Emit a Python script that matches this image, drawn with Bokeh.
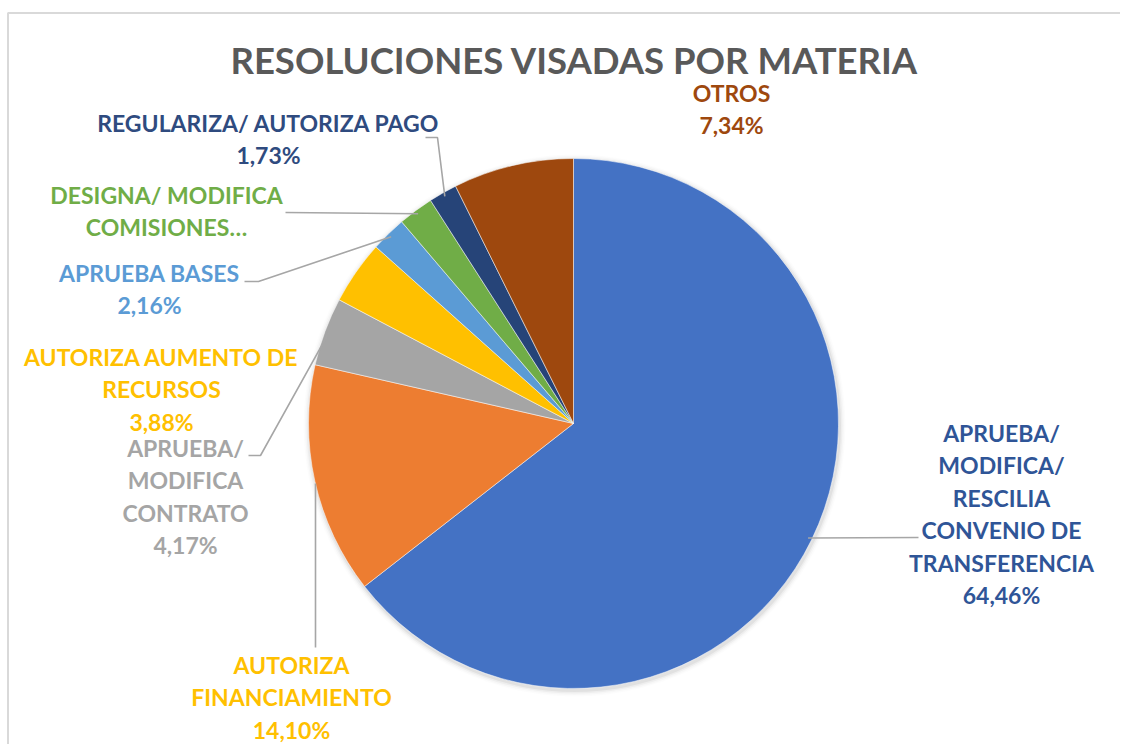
import math
from bokeh.plotting import figure
from bokeh.models import Range1d, ColumnDataSource
from bokeh.core.properties import value
from bokeh.embed import file_html
from bokeh.resources import INLINE

# ---------------- data ----------------
title = "RESOLUCIONES VISADAS POR MATERIA"
categories = [
    "APRUEBA/ MODIFICA/ RESCILIA CONVENIO DE TRANSFERENCIA",
    "AUTORIZA FINANCIAMIENTO",
    "APRUEBA/ MODIFICA CONTRATO",
    "AUTORIZA AUMENTO DE RECURSOS",
    "APRUEBA BASES",
    "DESIGNA/ MODIFICA COMISIONES…",
    "REGULARIZA/ AUTORIZA PAGO",
    "OTROS",
]
values = [64.46, 14.10, 4.17, 3.88, 2.16, 2.16, 1.73, 7.34]
show_pct = [True, True, True, True, True, False, True, True]
slice_colors = ["#4472C4", "#ED7D31", "#A5A5A5", "#FFC000", "#5B9BD5", "#70AD47", "#264478", "#9E480E"]
label_colors = ["#2F5597", "#FFC000", "#A5A5A5", "#FFC000", "#5B9BD5", "#70AD47", "#2F4B7F", "#9E480E"]
# label line breaks (layout)
label_lines = [
    ["APRUEBA/", "MODIFICA/", "RESCILIA", "CONVENIO DE", "TRANSFERENCIA"],
    ["AUTORIZA", "FINANCIAMIENTO"],
    ["APRUEBA/", "MODIFICA", "CONTRATO"],
    ["AUTORIZA AUMENTO DE", "RECURSOS"],
    ["APRUEBA BASES"],
    ["DESIGNA/ MODIFICA", "COMISIONES…"],
    ["REGULARIZA/ AUTORIZA PAGO"],
    ["OTROS"],
]
# label anchor: (center x, first line y) in screen px (layout)
label_pos = [(1001, 432), (291, 664), (185, 447), (161, 356), (149, 272), (166, 194), (268, 122), (731, 92)]
LINE_H = 32.5

# ---------------- layout ----------------
W, H = 1120, 744
CX, CY, R = 573, 423, 265  # screen px

p = figure(width=W, height=H, output_backend="svg", toolbar_location=None,
           x_range=Range1d(0, W), y_range=Range1d(-H, 0),
           min_border=0)
p.axis.visible = False
p.grid.visible = False
p.outline_line_color = None
p.background_fill_color = "white"
p.border_fill_color = "white"

def Y(sy):
    return -sy

# frame border (light gray)
p.line([7.5, 7.5, W + 5], [Y(H + 5), Y(12.5), Y(12.5)], line_color="#D9D9D9", line_width=2)

# soft shadow
for i, a in enumerate([0.05, 0.035, 0.02, 0.01]):
    p.circle(x=[CX + 1], y=[Y(CY + 2)], radius=R + 1.5 + i * 1.5, fill_color="#000000",
             fill_alpha=a, line_color=None)

# wedges
total = sum(values)
starts, ends, mids = [], [], []
cum = 0.0
for v in values:
    a0 = math.pi / 2 - 2 * math.pi * cum / total
    cum += v
    a1 = math.pi / 2 - 2 * math.pi * cum / total
    starts.append(a0)
    ends.append(a1)
    mids.append((a0 + a1) / 2)

src = ColumnDataSource(dict(start=starts, end=ends, color=slice_colors,
                            x=[CX] * len(values), y=[Y(CY)] * len(values)))
p.wedge(x="x", y="y", radius=R, start_angle="start", end_angle="end", direction="clock",
        fill_color="color", line_color="white", line_width=0.5, source=src)

def edge(i, k=1.0):
    a = mids[i]
    return CX + R * k * math.cos(a), CY - R * k * math.sin(a)

# leader lines: outer points (layout), inner point on slice edge
leader_outer = {
    0: [(918, 537)],
    1: [(315, 647)],
    2: [(248, 455), (260, 455)],
    4: [(244, 281), (258, 281)],
    5: [(285, 212)],
    6: [(425, 137), (437, 137)],
}
for i, pts in leader_outer.items():
    if i == 1:
        ex = pts[0][0]
        ey = CY + 60
        pts_all = [pts[0], (ex, ey)]
    else:
        ex, ey = edge(i, 0.985)
        pts_all = pts + [(ex, ey)]
    p.line([q[0] for q in pts_all], [Y(q[1]) for q in pts_all], line_color="#A6A6A6", line_width=1.6)

# labels
pct = [f"{v:.2f}".replace(".", ",") + "%" for v in values]
xs, ys, ts, cs = [], [], [], []
for i in range(len(values)):
    lx, ly = label_pos[i]
    lines = label_lines[i] + ([pct[i]] if show_pct[i] else [])
    for j, t in enumerate(lines):
        xs.append(lx)
        ys.append(Y(ly + j * LINE_H))
        ts.append(t)
        cs.append(label_colors[i])
p.text(x=xs, y=ys, text=ts, text_color=cs, text_align="center", text_baseline="middle",
       text_font=value("Lato"), text_font_style="bold", text_font_size="23px")

# title
p.text(x=[574], y=[Y(59)], text=[title], text_color="#595959", text_align="center",
       text_baseline="middle", text_font=value("Lato"), text_font_style="bold", text_font_size="36.5px")

open("out.html", "w").write(file_html(p, INLINE))
